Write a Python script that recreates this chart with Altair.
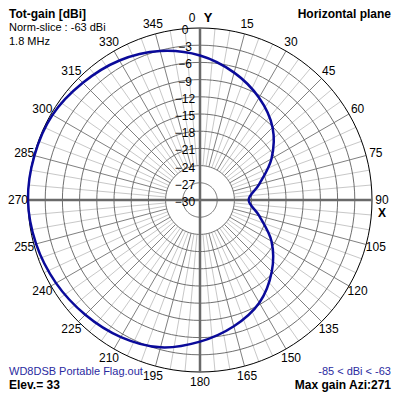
import altair as alt
import pandas as pd

# ---- data ----
azimuth = [0, 15, 30, 45, 60, 75, 90, 105, 120, 135, 150, 165,
           180, 195, 210, 225, 240, 255, 270, 285, 300, 315, 330, 345]
gain_db = [-4.8, -7.0, -9.4, -12.1, -15.6, -19.3, -21.5, -19.3, -15.6, -12.3, -9.3, -7.2,
           -5.3, -3.4, -2.4, -1.7, -1.0, -0.4, 0.0, -0.1, -0.3, -1.1, -1.9, -3.1]
ring_levels = [-3, -6, -9, -12, -15, -18, -21, -24, -27]
ring_labels = [0, -3, -6, -9, -12, -15, -18, -21, -24, -27, -30]
angle_labels = [15, 30, 45, 60, 75, 105, 120, 135, 150, 165, 180,
                195, 210, 225, 240, 255, 270, 285, 300, 315, 330, 345]
fine_angles = [a for a in range(0, 360, 5) if a % 90 != 0]

FONT = "Liberation Sans"
PX = 172 / 30.0          # pixels per dB unit
OX = 28                  # page position of plot origin
LR = 182 / PX            # radius of the angle labels (units)

xs = alt.Scale(domain=[-30, 30], nice=False, zero=False)
ys = alt.Scale(domain=[-30, 30], nice=False, zero=False)
X = lambda f: alt.X(f, type="quantitative", scale=xs, axis=None)
Y = lambda f: alt.Y(f, type="quantitative", scale=ys, axis=None)

# rings
ring_rows = []
for lvl in ring_levels + [0]:
    for a in range(0, 361, 3):
        ring_rows.append({"lvl": lvl, "a": a})
ring_df = pd.DataFrame(ring_rows)
ring_calc = dict(x="(datum.lvl + 30) * sin(datum.a * PI / 180)",
                 y="(datum.lvl + 30) * cos(datum.a * PI / 180)")
rings = alt.Chart(ring_df).transform_filter("datum.lvl < 0").transform_calculate(**ring_calc).mark_line(
    color="#707070", strokeWidth=1).encode(x=X("x"), y=Y("y"), detail="lvl:N", order="a:Q")
outer = alt.Chart(ring_df).transform_filter("datum.lvl == 0").transform_calculate(**ring_calc).mark_line(
    color="#000000", strokeWidth=1).encode(x=X("x"), y=Y("y"), detail="lvl:N", order="a:Q")

# radials
rad_df = pd.DataFrame({"a": fine_angles})
rad_calc = dict(x="6 * sin(datum.a * PI / 180)", y="6 * cos(datum.a * PI / 180)",
                x2="30 * sin(datum.a * PI / 180)", y2="30 * cos(datum.a * PI / 180)")
light = alt.Chart(rad_df).transform_filter("datum.a % 15 != 0").transform_calculate(**rad_calc).mark_rule(
    color="#c8c8c8", strokeWidth=1).encode(x=X("x"), y=Y("y"), x2="x2:Q", y2="y2:Q")
dark = alt.Chart(rad_df).transform_filter("datum.a % 15 == 0").transform_calculate(**rad_calc).mark_rule(
    color="#808080", strokeWidth=1).encode(x=X("x"), y=Y("y"), x2="x2:Q", y2="y2:Q")

ax_df = pd.DataFrame({"a": [0, 90]})
axes = alt.Chart(ax_df).transform_calculate(
    x="-30 * sin(datum.a * PI / 180)", y="-30 * cos(datum.a * PI / 180)",
    x2="30 * sin(datum.a * PI / 180)", y2="30 * cos(datum.a * PI / 180)").mark_rule(
    color="#6a6a6a", strokeWidth=2.5).encode(x=X("x"), y=Y("y"), x2="x2:Q", y2="y2:Q")

# pattern
pat_df = pd.DataFrame({"az": azimuth, "g": gain_db})
pattern = alt.Chart(pat_df).transform_calculate(
    x="(datum.g + 30) * sin(datum.az * PI / 180)",
    y="(datum.g + 30) * cos(datum.az * PI / 180)").mark_line(
    color="#0a0a9a", strokeWidth=2.5, interpolate="cardinal-closed").encode(
    x=X("x"), y=Y("y"), order="az:Q")

# ring labels
rl_df = pd.DataFrame({"v": ring_labels})
rlab = alt.Chart(rl_df).transform_calculate(x=str(-15 / PX), y=f"datum.v + 30 - {2 / PX}").mark_text(
    font=FONT, fontSize=12, color="#000000", align="center", baseline="middle").encode(
    x=X("x"), y=Y("y"), text="v:Q")

# angle labels
al_df = pd.DataFrame({"a": angle_labels})
alab = alt.Chart(al_df).transform_calculate(
    x=f"{LR} * sin(datum.a * PI / 180)", y=f"{LR} * cos(datum.a * PI / 180)").mark_text(
    font=FONT, fontSize=12, color="#000000", align="center", baseline="middle").encode(
    x=X("x"), y=Y("y"), text="a:Q")
zero_lab = alt.Chart(pd.DataFrame({"t": ["0"], "x": [0], "y": [LR]})).mark_text(
    font=FONT, fontSize=12, align="center", baseline="middle", dx=-8).encode(
    x=X("x"), y=Y("y"), text="t:N")
y_lab = alt.Chart(pd.DataFrame({"t": ["Y"], "x": [0], "y": [LR]})).mark_text(
    font=FONT, fontSize=13, fontWeight="bold", align="center", baseline="middle", dx=8).encode(
    x=X("x"), y=Y("y"), text="t:N")
n90_lab = alt.Chart(pd.DataFrame({"t": ["90"], "x": [LR], "y": [0]})).mark_text(
    font=FONT, fontSize=12, align="center", baseline="middle", dy=0).encode(
    x=X("x"), y=Y("y"), text="t:N")
x_lab = alt.Chart(pd.DataFrame({"t": ["X"], "x": [LR], "y": [0]})).mark_text(
    font=FONT, fontSize=12, fontWeight="bold", align="center", baseline="middle", dy=13).encode(
    x=X("x"), y=Y("y"), text="t:N")

# annotations (page coordinates minus plot origin)
def note(txt, px, py, align="left", bold=False, color="#000000", size=12):
    return alt.Chart(pd.DataFrame({"t": [txt]})).mark_text(
        font=FONT, fontSize=size, fontWeight="bold" if bold else "normal", color=color,
        align=align, baseline="middle").encode(
        x=alt.value(px - OX), y=alt.value(py - OX), text="t:N")

notes = [
    note("Tot-gain [dBi]", 9, 14, bold=True),
    note("Norm-slice : -63 dBi", 9, 28, size=11),
    note("1.8 MHz", 9, 42, size=11),
    note("Horizontal plane", 391, 14, align="right", bold=True),
    note("WD8DSB Portable Flag.out", 9, 372, color="#2a2aa0", size=11),
    note("Elev.= 33", 9, 385, bold=True),
    note("-85 < dBi < -63", 391, 372, align="right", color="#2a2aa0", size=11),
    note("Max gain Azi:271", 391, 385, align="right", bold=True),
]

chart = alt.layer(light, dark, rings, outer, axes, pattern, rlab, alab,
                  zero_lab, y_lab, n90_lab, x_lab, *notes).properties(
    width=344, height=344,
    padding={"left": 20, "top": 20, "right": 20, "bottom": 20},
    autosize=alt.AutoSizeParams(type="none"),
    background="#ffffff",
).configure_view(stroke=None)

chart.save("out.html", embed_options={"renderer": "svg", "actions": False})
